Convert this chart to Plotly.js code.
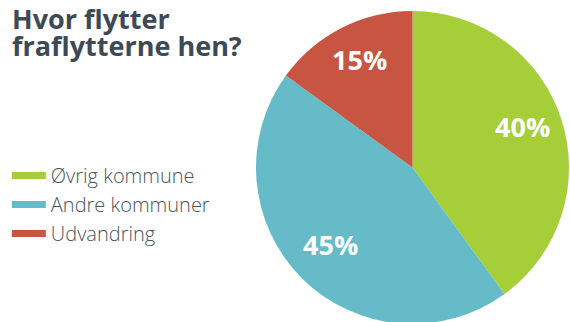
<!DOCTYPE html>
<html><head><meta charset="utf-8">
<script src="https://cdn.plot.ly/plotly-3.0.1.min.js"></script>
<style>html,body{margin:0;padding:0;overflow:hidden;background:#fff}#c{width:570px;height:340px}</style>
</head><body><div id="c"></div>
<script>
const labels = ["Øvrig kommune", "Andre kommuner", "Udvandring"];
const values = [40, 45, 15];
const colors = ["#a6ce39", "#65bcc8", "#c85542"];
const titleLines = ["Hvor flytter", "fraflytterne hen?"];

const W = 570, H = 340;
const dom = {x: [256 / W, 569 / W], y: [1 - 324 / H, 1 - 11 / H]};
const traces = [{
  type: "pie",
  labels: labels,
  values: values,
  marker: {colors: colors, line: {width: 0}},
  sort: false,
  direction: "clockwise",
  rotation: 0,
  textinfo: "none",
  hoverinfo: "none",
  showlegend: false,
  domain: dom
}];
labels.forEach((l, i) => traces.push({
  type: "scatter", mode: "lines", x: [null], y: [null], name: l,
  line: {color: colors[i], width: 7}, showlegend: true, hoverinfo: "none"
}));

// percentage labels placed along each slice's mid-angle
const total = values.reduce((a, b) => a + b, 0);
const cx = (dom.x[0] + dom.x[1]) / 2, cy = (dom.y[0] + dom.y[1]) / 2;
const rPx = (dom.x[1] - dom.x[0]) * W / 2 * 0.74;
let cum = 0;
const annotations = values.map((v) => {
  const mid = (cum + v / 2) / total * 2 * Math.PI;
  cum += v;
  return {
    xref: "paper", yref: "paper",
    x: cx + rPx * Math.sin(mid) / W,
    y: cy + rPx * Math.cos(mid) / H,
    yshift: 5,
    text: Math.round(v / total * 100) + "%",
    showarrow: false, xanchor: "center", yanchor: "middle",
    font: {family: "Open Sans", size: 27, color: "#ffffff", weight: "bold"}
  };
});
titleLines.forEach((t, i) => annotations.push({
  xref: "paper", yref: "paper", x: 10 / W, y: 1 - (i * 27 - 2) / H,
  xanchor: "left", yanchor: "top", showarrow: false, text: t,
  font: {family: "Open Sans", size: 27, color: "#3d4a55", weight: "bold"}
}));

Plotly.newPlot("c", traces, {
  width: W, height: H,
  margin: {l: 0, r: 0, t: 0, b: 0},
  paper_bgcolor: "#ffffff", plot_bgcolor: "#ffffff",
  xaxis: {visible: false}, yaxis: {visible: false},
  annotations: annotations,
  legend: {x: 0.012, xanchor: "left", y: 1 - 156 / H, yanchor: "top",
    font: {family: "Open Sans", size: 20, color: "#4a5560", weight: 300},
    tracegroupgap: 0, itemwidth: 34, bgcolor: "rgba(0,0,0,0)"},
  showlegend: true
}, {staticPlot: true});
</script></body></html>
